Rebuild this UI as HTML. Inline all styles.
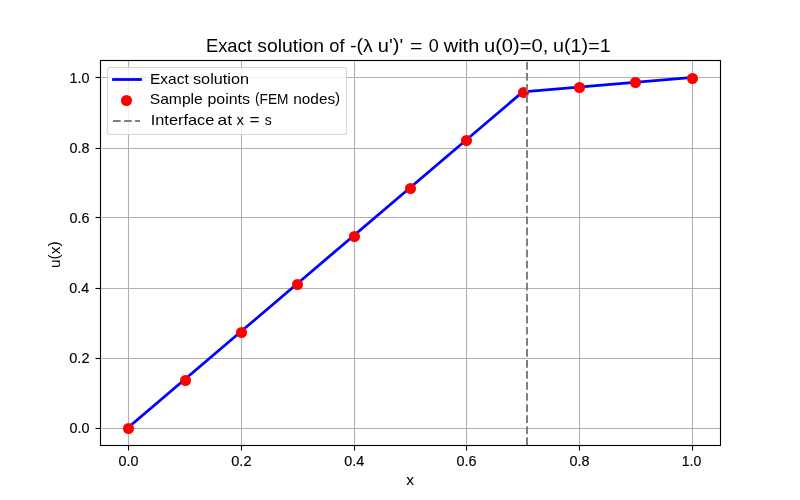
<!DOCTYPE html>
<html><head><meta charset="utf-8"><title>Exact solution</title>
<style>
html,body{margin:0;padding:0;background:#fff;}
body{width:800px;height:500px;overflow:hidden;font-family:"Liberation Sans",sans-serif;}
svg{display:block;}
text{font-family:"Liberation Sans",sans-serif;fill:#000;}
</style></head><body>
<svg width="800" height="500" viewBox="0 0 800 500">
<rect width="800" height="500" fill="#fff"/>
<g stroke="#b0b0b0" stroke-width="1.11" fill="none"><path d="M128.5 60.5V445.5"/><path d="M241.5 60.5V445.5"/><path d="M354.5 60.5V445.5"/><path d="M466.5 60.5V445.5"/><path d="M579.5 60.5V445.5"/><path d="M692.5 60.5V445.5"/><path d="M100.5 77.5H720.5"/><path d="M100.5 148.5H720.5"/><path d="M100.5 217.5H720.5"/><path d="M100.5 288.5H720.5"/><path d="M100.5 358.5H720.5"/><path d="M100.5 428.5H720.5"/></g>
<polyline points="128.18,427.5 522.73,91.88 691.82,77.5" fill="none" stroke="#0000ff" stroke-width="2.78" stroke-linecap="square" stroke-linejoin="round"/>
<g fill="#ff0000"><circle cx="128.5" cy="428.5" r="5.55"/><circle cx="185.5" cy="380.5" r="5.55"/><circle cx="241.5" cy="332.5" r="5.55"/><circle cx="297.5" cy="284.5" r="5.55"/><circle cx="354.5" cy="236.5" r="5.55"/><circle cx="410.5" cy="188.5" r="5.55"/><circle cx="466.5" cy="140.5" r="5.55"/><circle cx="523.5" cy="92.5" r="5.55"/><circle cx="579.5" cy="87.5" r="5.55"/><circle cx="635.5" cy="82.5" r="5.55"/><circle cx="692.5" cy="78.5" r="5.55"/></g>
<path d="M527 445V60" stroke="#808080" stroke-width="2" stroke-dasharray="7.71 3.33" fill="none"/>
<g stroke="#000" stroke-width="1.11" fill="none"><path d="M128.5 445.5V450.5"/><path d="M241.5 445.5V450.5"/><path d="M354.5 445.5V450.5"/><path d="M466.5 445.5V450.5"/><path d="M579.5 445.5V450.5"/><path d="M692.5 445.5V450.5"/><path d="M100.5 77.5H95.5"/><path d="M100.5 148.5H95.5"/><path d="M100.5 217.5H95.5"/><path d="M100.5 288.5H95.5"/><path d="M100.5 358.5H95.5"/><path d="M100.5 428.5H95.5"/><rect x="100.5" y="60.5" width="620" height="385"/></g>
<rect x="107.5" y="67.5" width="239" height="67" rx="2.78" ry="2.78" fill="#fff" fill-opacity="0.8" stroke="#ccc" stroke-opacity="0.8" stroke-width="1.11"/>
<path d="M113.5 79.5H140.5" stroke="#0000ff" stroke-width="2.78" stroke-linecap="square"/>
<circle cx="126.5" cy="100.5" r="5.55" fill="#ff0000"/>
<path d="M113 121H140" stroke="#808080" stroke-width="2.08" stroke-dasharray="7.71 3.33"/>
<g opacity="0.999">
<text x="206.00" y="51.50" font-size="18.20" textLength="45.75" lengthAdjust="spacingAndGlyphs">Exact</text>
<text x="257.25" y="51.50" font-size="18.20" textLength="66.75" lengthAdjust="spacingAndGlyphs">solution</text>
<text x="329.25" y="51.50" font-size="18.20" textLength="15.25" lengthAdjust="spacingAndGlyphs">of</text>
<text x="350.00" y="51.50" font-size="18.20" textLength="22.75" lengthAdjust="spacingAndGlyphs">-<tspan dy="-1.0">(</tspan><tspan dy="1.0">λ</tspan></text>
<text x="377.75" y="51.50" font-size="18.20" textLength="25.50" lengthAdjust="spacingAndGlyphs">u'<tspan dy="-1.0">)</tspan><tspan dy="1.0">'</tspan></text>
<text x="410.00" y="51.50" font-size="18.20" textLength="12.50" lengthAdjust="spacingAndGlyphs">=</text>
<text x="428.75" y="51.50" font-size="18.20" textLength="10.00" lengthAdjust="spacingAndGlyphs">0</text>
<text x="443.75" y="51.50" font-size="18.20" textLength="35.50" lengthAdjust="spacingAndGlyphs">with</text>
<text x="484.00" y="51.50" font-size="18.20" textLength="64.25" lengthAdjust="spacingAndGlyphs">u<tspan dy="-1.0">(</tspan><tspan dy="1.0">0</tspan><tspan dy="-1.0">)</tspan><tspan dy="1.0">=0,</tspan></text>
<text x="553.00" y="51.50" font-size="18.20" textLength="57.75" lengthAdjust="spacingAndGlyphs">u<tspan dy="-1.0">(</tspan><tspan dy="1.0">1</tspan><tspan dy="-1.0">)</tspan><tspan dy="1.0">=1</tspan></text>
<text x="150.00" y="84.00" font-size="14.50" textLength="38.75" lengthAdjust="spacingAndGlyphs">Exact</text>
<text x="193.00" y="84.00" font-size="14.50" textLength="56.00" lengthAdjust="spacingAndGlyphs">solution</text>
<text x="149.75" y="104.00" font-size="14.50" textLength="53.00" lengthAdjust="spacingAndGlyphs">Sample</text>
<text x="207.50" y="104.00" font-size="14.50" textLength="42.50" lengthAdjust="spacingAndGlyphs">points</text>
<text x="255.00" y="104.00" font-size="14.50" textLength="33.50" lengthAdjust="spacingAndGlyphs"><tspan dy="-1.0">(</tspan><tspan dy="1.0">FEM</tspan></text>
<text x="293.25" y="104.00" font-size="14.50" textLength="47.00" lengthAdjust="spacingAndGlyphs">nodes<tspan dy="-1.0">)</tspan></text>
<text x="150.75" y="125.00" font-size="14.50" textLength="63.50" lengthAdjust="spacingAndGlyphs">Interface</text>
<text x="217.50" y="125.00" font-size="14.50" textLength="14.50" lengthAdjust="spacingAndGlyphs">at</text>
<text x="236.50" y="125.00" font-size="14.50" textLength="7.50" lengthAdjust="spacingAndGlyphs">x</text>
<text x="249.50" y="125.00" font-size="14.50" textLength="10.00" lengthAdjust="spacingAndGlyphs">=</text>
<text x="264.75" y="125.00" font-size="14.50" textLength="7.00" lengthAdjust="spacingAndGlyphs">s</text>
<text x="406.25" y="485.00" font-size="14.60" textLength="7.75" lengthAdjust="spacingAndGlyphs" stroke="#000" stroke-width="0.05">x</text>
<text x="60.25" y="268.00" font-size="14.60" textLength="26.75" lengthAdjust="spacingAndGlyphs" transform="rotate(-90 60.25 268.00)">u<tspan dy="-1.0">(</tspan><tspan dy="1.0">x</tspan><tspan dy="-1.0">)</tspan></text>
<text x="118.50" y="466.00" font-size="14.15" textLength="20.00" lengthAdjust="spacingAndGlyphs" stroke="#000" stroke-width="0.15">0.0</text>
<text x="231.25" y="466.00" font-size="14.15" textLength="20.25" lengthAdjust="spacingAndGlyphs" stroke="#000" stroke-width="0.15">0.2</text>
<text x="344.25" y="466.00" font-size="14.15" textLength="20.00" lengthAdjust="spacingAndGlyphs" stroke="#000" stroke-width="0.15">0.4</text>
<text x="456.50" y="466.00" font-size="14.15" textLength="20.00" lengthAdjust="spacingAndGlyphs" stroke="#000" stroke-width="0.15">0.6</text>
<text x="569.50" y="466.00" font-size="14.15" textLength="20.00" lengthAdjust="spacingAndGlyphs" stroke="#000" stroke-width="0.15">0.8</text>
<text x="681.75" y="466.00" font-size="14.15" textLength="19.50" lengthAdjust="spacingAndGlyphs" stroke="#000" stroke-width="0.15">1.0</text>
<text x="69.50" y="83.00" font-size="14.15" textLength="20.00" lengthAdjust="spacingAndGlyphs" stroke="#000" stroke-width="0.15">1.0</text>
<text x="69.50" y="153.00" font-size="14.15" textLength="20.00" lengthAdjust="spacingAndGlyphs" stroke="#000" stroke-width="0.15">0.8</text>
<text x="69.50" y="223.00" font-size="14.15" textLength="20.00" lengthAdjust="spacingAndGlyphs" stroke="#000" stroke-width="0.15">0.6</text>
<text x="69.25" y="293.00" font-size="14.15" textLength="20.00" lengthAdjust="spacingAndGlyphs" stroke="#000" stroke-width="0.15">0.4</text>
<text x="69.25" y="363.00" font-size="14.15" textLength="20.25" lengthAdjust="spacingAndGlyphs" stroke="#000" stroke-width="0.15">0.2</text>
<text x="69.50" y="433.00" font-size="14.15" textLength="20.00" lengthAdjust="spacingAndGlyphs" stroke="#000" stroke-width="0.15">0.0</text>
</g>
</svg>
</body></html>
